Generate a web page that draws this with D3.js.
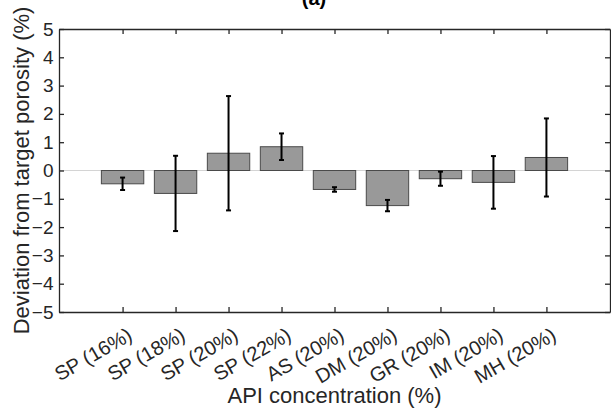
<!DOCTYPE html>
<html>
<head>
<meta charset="utf-8">
<script src="https://cdn.jsdelivr.net/npm/d3@7"></script>
<style>
  html, body { margin: 0; padding: 0; background: #fff; }
  svg { display: block; }
  text { font-family: Arial, "Liberation Sans", Helvetica, sans-serif; }
</style>
</head>
<body>
<svg id="chart" width="611" height="414"></svg>
<script>
// ---- data ----
const categories = ["SP (16%)", "SP (18%)", "SP (20%)", "SP (22%)", "AS (20%)", "DM (20%)", "GR (20%)", "IM (20%)", "MH (20%)"];
const deviation = [-0.47, -0.81, 0.61, 0.84, -0.67, -1.24, -0.29, -0.42, 0.46];
const errorSize = [0.22, 1.33, 2.02, 0.47, 0.08, 0.20, 0.25, 0.93, 1.38];
const yTicks = [-5, -4, -3, -2, -1, 0, 1, 2, 3, 4, 5];
const titleText = "(a)";
const xLabel = "API concentration (%)";
const yLabel = "Deviation from target porosity (%)";

// ---- layout ----
const W = 611, H = 414;
const m = { left: 59, right: 610, top: 29, bottom: 312 };
const svg = d3.select("#chart");

const x = d3.scaleLinear().domain([-0.2, categories.length + 1.2]).range([m.left, m.right]);
const y = d3.scaleLinear().domain([-5, 5]).range([m.bottom, m.top]);
const step = x(2) - x(1);
const barW = step * 0.8;
const axisColor = "#262626";

// zero line
svg.append("line")
  .attr("x1", m.left).attr("x2", m.right)
  .attr("y1", y(0)).attr("y2", y(0))
  .attr("stroke", "#d4d4d4").attr("stroke-width", 1);

const data = categories.map((c, i) => ({ c, i: i + 1, v: deviation[i], e: errorSize[i] }));

// bars
svg.append("g").selectAll("rect").data(data).join("rect")
  .attr("x", d => x(d.i) - barW / 2)
  .attr("width", barW)
  .attr("y", d => y(Math.max(0, d.v)))
  .attr("height", d => Math.abs(y(d.v) - y(0)))
  .attr("fill", "#999999")
  .attr("stroke", "#4a4a4a")
  .attr("stroke-width", 1);

// error bars
const eg = svg.append("g").attr("stroke", "#000").attr("stroke-width", 2);
data.forEach(d => {
  const cx = x(d.i);
  eg.append("line").attr("x1", cx).attr("x2", cx).attr("y1", y(d.v + d.e)).attr("y2", y(d.v - d.e));
  [d.v + d.e, d.v - d.e].forEach(val => {
    eg.append("line").attr("x1", cx - 2.5).attr("x2", cx + 2.5).attr("y1", y(val)).attr("y2", y(val));
  });
});

// axes (box with inward ticks)
const tickLen = 5;
const axisLeft = d3.axisLeft(y).tickValues(yTicks).tickSizeInner(-tickLen).tickSizeOuter(0).tickPadding(5.5).tickFormat(d3.format("d"));
const gL = svg.append("g").attr("transform", `translate(${m.left},0)`).call(axisLeft);
const axisRight = d3.axisRight(y).tickValues(yTicks).tickSizeInner(-tickLen).tickSizeOuter(0).tickFormat("");
const gR = svg.append("g").attr("transform", `translate(${m.right},0)`).call(axisRight);
const xt = categories.map((c, i) => i + 1);
const axisBottom = d3.axisBottom(x).tickValues(xt).tickSizeInner(-tickLen).tickSizeOuter(0).tickFormat("");
const gB = svg.append("g").attr("transform", `translate(0,${m.bottom})`).call(axisBottom);
const axisTop = d3.axisTop(x).tickValues(xt).tickSizeInner(-tickLen).tickSizeOuter(0).tickFormat("");
const gT = svg.append("g").attr("transform", `translate(0,${m.top})`).call(axisTop);

[gL, gR, gB, gT].forEach(g => {
  g.selectAll("path.domain").attr("stroke", axisColor).attr("stroke-width", 1.3);
  g.selectAll(".tick line").attr("stroke", axisColor).attr("stroke-width", 1.3);
});
gL.selectAll(".tick text")
  .attr("fill", axisColor)
  .style("font-size", "19px")
  .style("font-family", "Arial, 'Liberation Sans', sans-serif");

// rotated x tick labels
svg.append("g").selectAll("text").data(data).join("text")
  .attr("transform", d => `translate(${x(d.i) + 11},${m.bottom + 27}) rotate(-30)`)
  .attr("text-anchor", "end")
  .attr("fill", axisColor)
  .style("font-size", "20px")
  .text(d => d.c);

// axis labels
svg.append("text")
  .attr("x", (m.left + m.right) / 2).attr("y", 403)
  .attr("text-anchor", "middle")
  .attr("fill", axisColor)
  .style("font-size", "22px")
  .text(xLabel);

svg.append("text")
  .attr("transform", `translate(29,${(m.top + m.bottom) / 2}) rotate(-90)`)
  .attr("text-anchor", "middle")
  .attr("fill", axisColor)
  .style("font-size", "22px")
  .text(yLabel);

// title (partially cut at top, as in the reference)
svg.append("text")
  .attr("x", 314).attr("y", 5)
  .attr("text-anchor", "middle")
  .attr("fill", "#000")
  .style("font-size", "20px")
  .style("font-weight", "bold")
  .text(titleText);
</script>
</body>
</html>
